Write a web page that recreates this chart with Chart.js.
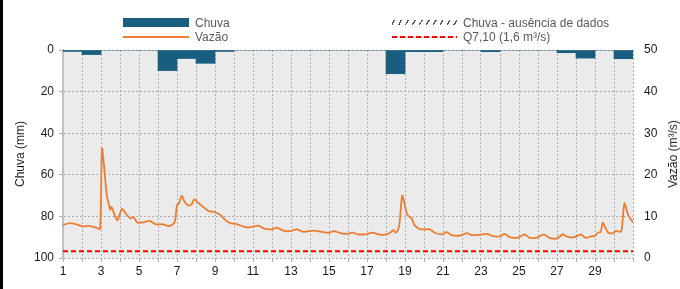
<!DOCTYPE html>
<html lang="pt-BR">
<head>
<meta charset="utf-8">
<script src="https://cdn.jsdelivr.net/npm/chart.js@4.4.1/dist/chart.umd.min.js"></script>
<style>
    body { margin: 0; background: #fff; font-family: 'Liberation Sans', Arial, sans-serif; }
    #wrap { position: relative; width: 680px; height: 289px; overflow: hidden; }
    #borda { position: absolute; left: 0; top: 0; width: 3px; height: 289px; background: #000; }
    canvas { position: absolute; left: 0; top: 0; }
    .leg-txt { position: absolute; font-size: 12px; line-height: 14px; color: #595959; white-space: nowrap; }
    .sw { position: absolute; }
    #sw-chuva { left: 123px; top: 18px; width: 66px; height: 9px; background: #195e7f; }
    #sw-vazao { left: 123px; top: 36px; width: 66px; height: 2px; background: #ed7d31; }
    #sw-falha { left: 392px; top: 20px; width: 65px; height: 5px;
        background: repeating-linear-gradient(-60deg, transparent 0 2px, #555 2px 3.3px, transparent 3.3px 6px); }
    #sw-q710 { left: 392px; top: 36px; width: 65px; height: 2px;
        background: repeating-linear-gradient(90deg, #ff0000 0 5px, transparent 5px 8px); }
    #tit-dir { position: absolute; left: 673px; top: 154px; font-size: 12px; color: #1a1a1a;
        white-space: nowrap; transform: translate(-50%, -50%) rotate(-90deg); }
</style>
</head>
<body>
<div id="wrap">
    <canvas id="myChart" width="680" height="289"></canvas>
    <div id="borda"></div>
    <div class="sw" id="sw-chuva"></div>
    <div class="leg-txt" style="left:195px;top:16px">Chuva</div>
    <div class="sw" id="sw-vazao"></div>
    <div class="leg-txt" style="left:195px;top:30px">Vazão</div>
    <div class="sw" id="sw-falha"></div>
    <div class="leg-txt" style="left:463px;top:16px">Chuva - ausência de dados</div>
    <div class="sw" id="sw-q710"></div>
    <div class="leg-txt" style="left:463px;top:30px">Q7,10 (1,6 m³/s)</div>
    <div id="tit-dir">Vazão (m³/s)</div>
</div>
<script>
// dias do mês (barra de cada dia ocupa de d até d+1)
const dias = [1, 2, 3, 4, 5, 6, 7, 8, 9, 10, 11, 12, 13, 14, 15, 16, 17, 18, 19, 20, 21, 22, 23, 24, 25, 26, 27, 28, 29, 30];
// chuva diária (mm)
const chuva = [0.7, 2.2, 0, 0, 0, 9.9, 4.1, 6.4, 0.7, 0, 0, 0, 0, 0, 0, 0, 0, 11.4, 0.8, 0.8, 0, 0, 0.8, 0, 0, 0, 1.3, 3.9, 0, 4.2];
// chuva - ausência de dados (nenhum dia no período)
const chuvaFalha = [];

// vazão (m³/s), tempo em dias
const vazaoTempo = [1.0, 1.35, 1.7, 2.0, 2.4, 2.75, 2.95, 3.05, 3.17, 3.3, 3.42, 3.48, 3.55, 3.75, 3.87, 4.1, 4.3, 4.55, 4.7, 4.9,
    5.2, 5.55, 5.9, 6.25, 6.6, 6.87, 7.0, 7.1, 7.25, 7.4, 7.6, 7.77, 7.9, 8.1, 8.38, 8.65, 9.0, 9.3, 9.55, 9.8,
    10.1, 10.55, 10.9, 11.3, 11.55, 12.0, 12.25, 12.65, 13.0, 13.3, 13.65, 14.2, 14.6, 15.0, 15.25, 15.6, 15.9, 16.25, 16.5, 16.9,
    17.3, 17.6, 17.95, 18.2, 18.4, 18.5, 18.6, 18.7, 18.85, 18.95, 19.05, 19.14, 19.35, 19.5, 19.8, 20.05, 20.3, 20.6, 20.95, 21.2,
    21.45, 21.9, 22.25, 22.5, 22.95, 23.3, 23.65, 24.0, 24.25, 24.5, 24.95, 25.3, 25.55, 25.95, 26.3, 26.6, 27.0, 27.3, 27.55, 27.9,
    28.25, 28.5, 28.8, 29.0, 29.15, 29.3, 29.4, 29.55, 29.7, 29.95, 30.1, 30.3, 30.4, 30.55, 30.75, 31.0];
const vazao = [7.9, 8.4, 8.1, 7.6, 7.7, 7.3, 7.0, 26.3, 21.6, 15.2, 12.8, 11.6, 12.3, 9.9, 9.1, 11.8, 10.7, 9.5, 9.9, 8.55,
    8.55, 8.9, 8.1, 8.1, 7.7, 8.55, 12.7, 13.1, 15.0, 13.5, 12.6, 12.9, 14.1, 13.3, 12.3, 11.3, 11.0, 10.3, 9.1, 8.4,
    8.2, 7.5, 7.4, 7.8, 7.1, 6.9, 7.3, 6.5, 6.5, 6.9, 6.3, 6.6, 6.3, 6.05, 6.45, 6.0, 5.8, 6.1, 5.7, 5.7,
    6.1, 5.7, 5.6, 6.0, 6.7, 6.1, 6.45, 7.9, 15.0, 13.5, 11.5, 10.3, 9.5, 7.9, 6.9, 6.9, 6.9, 6.0, 5.7, 6.2,
    5.5, 5.4, 6.0, 5.5, 5.6, 5.8, 5.25, 5.2, 5.8, 5.0, 4.9, 5.65, 4.85, 4.9, 5.7, 4.85, 4.7, 5.65, 5.1, 5.0,
    5.65, 4.85, 5.2, 5.3, 6.1, 6.3, 8.5, 7.3, 6.05, 6.0, 6.5, 6.3, 6.7, 13.1, 10.3, 8.55];

const q710 = 1.6;
const inicioMes = 1;
const fimMes = 31;
const ultimoRotulo = 29;

const corGrade = '#b0b0b0';
const corTexto = '#1a1a1a';

// fundo cinza da área do gráfico
const fundoPlugin = {
    id: 'fundo',
    beforeDraw(chart) {
        const a = chart.chartArea;
        const ctx = chart.ctx;
        ctx.save();
        ctx.fillStyle = '#ebebeb';
        ctx.fillRect(a.left, a.top, a.right - a.left, a.bottom - a.top);
        ctx.restore();
    }
};

function padraoFalha() {
    const c = document.createElement('canvas');
    c.width = 6; c.height = 6;
    const g = c.getContext('2d');
    g.strokeStyle = '#444';
    g.beginPath(); g.moveTo(0, 6); g.lineTo(6, 0); g.stroke();
    return g.createPattern(c, 'repeat');
}

function createChart() {
    Chart.defaults.font.family = "'Liberation Sans', Arial, sans-serif";
    Chart.defaults.font.size = 12;
    Chart.defaults.color = corTexto;

    const ctx = document.getElementById('myChart').getContext('2d');
    new Chart(ctx, {
        type: 'bar',
        data: {
            datasets: [
                {
                    type: 'bar',
                    label: 'Chuva',
                    data: dias.map((d, i) => ({ x: d + 0.5, y: chuva[i] })),
                    backgroundColor: '#195e7f',
                    borderWidth: 0,
                    grouped: false,
                    categoryPercentage: 1,
                    barPercentage: 1,
                    yAxisID: 'y',
                    order: 2
                },
                {
                    type: 'bar',
                    label: 'Chuva - ausência de dados',
                    data: chuvaFalha,
                    backgroundColor: padraoFalha(),
                    borderWidth: 0,
                    grouped: false,
                    categoryPercentage: 1,
                    barPercentage: 1,
                    yAxisID: 'y',
                    order: 3
                },
                {
                    type: 'line',
                    label: 'Vazão',
                    data: vazaoTempo.map((t, i) => ({ x: t, y: vazao[i] })),
                    borderColor: '#ed7d31',
                    borderWidth: 1.8,
                    pointRadius: 0,
                    tension: 0.25,
                    yAxisID: 'y2',
                    order: 0
                },
                {
                    type: 'line',
                    label: 'Q7,10 (1,6 m³/s)',
                    data: [{ x: inicioMes, y: q710 }, { x: fimMes, y: q710 }],
                    borderColor: '#ff0000',
                    borderWidth: 2,
                    borderDash: [5, 3],
                    pointRadius: 0,
                    yAxisID: 'y2',
                    order: 1
                }
            ]
        },
        options: {
            responsive: false,
            animation: false,
            layout: { padding: { left: 3, top: 50, right: 0, bottom: 0 } },
            plugins: {
                legend: { display: false },
                tooltip: { enabled: false }
            },
            scales: {
                x: {
                    type: 'linear',
                    min: inicioMes,
                    max: fimMes,
                    offset: false,
                    grid: { color: corGrade, tickLength: 4, offset: false },
                    border: { display: false, dash: [2, 2] },
                    ticks: {
                        stepSize: 1,
                        autoSkip: false,
                        maxRotation: 0,
                        padding: 2,
                        color: corTexto,
                        callback: (v) => (v % 2 === 1 && v <= ultimoRotulo) ? v : ''
                    },
                    afterFit: (s) => { s.height = 31; }
                },
                y: {
                    type: 'linear',
                    position: 'left',
                    reverse: true,
                    min: 0,
                    max: 100,
                    grid: { color: corGrade, tickLength: 4 },
                    border: { display: true, color: '#bfbfbf', width: 2, dash: [2, 2] },
                    ticks: { stepSize: 20, padding: 5, color: corTexto },
                    title: { display: true, text: 'Chuva (mm)', color: corTexto, padding: { top: 10, bottom: 0 } },
                    afterFit: (s) => { s.width = 60; }
                },
                y2: {
                    type: 'linear',
                    position: 'right',
                    min: 0,
                    max: 50,
                    grid: { drawOnChartArea: false, drawTicks: false },
                    border: { display: false },
                    ticks: { stepSize: 10, padding: 11, color: corTexto },
                    afterFit: (s) => { s.width = 47; }
                }
            }
        },
        plugins: [fundoPlugin]
    });
}

createChart();
</script>
</body>
</html>
